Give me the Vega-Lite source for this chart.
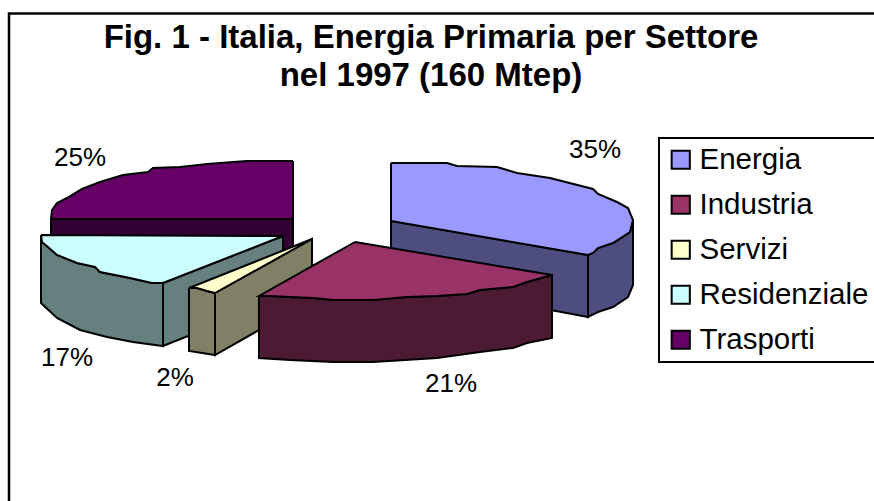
{"$schema":"https://vega.github.io/schema/vega-lite/v6.json","width":874,"height":501,"padding":0,"autosize":{"type":"none"},"background":"white",
"config":{"view":{"stroke":null},"legend":{"strokeWidth":2}},
"title":{"text":["Fig. 1 - Italia, Energia Primaria per Settore","nel 1997 (160 Mtep)"],"anchor":"middle","frame":"group","dx":-6,"offset":-93,"font":"Liberation Sans","fontSize":33,"fontWeight":"bold","color":"black","lineHeight":38},
"datasets":{
"frame":[{"i":0,"x":9,"y":501},{"i":1,"x":9,"y":13.5},{"i":2,"x":874,"y":13.5}],
"sides":[
{"face":"T1","shade":"#330033","i":0,"x":51,"y":219},{"face":"T1","shade":"#330033","i":1,"x":293,"y":219},{"face":"T1","shade":"#330033","i":2,"x":293,"y":270},{"face":"T1","shade":"#330033","i":3,"x":51,"y":270},{"face":"T1","shade":"#330033","i":4,"x":51,"y":219},
{"face":"R1","shade":"#668080","i":0,"x":163,"y":283},{"face":"R1","shade":"#668080","i":1,"x":283,"y":236},{"face":"R1","shade":"#668080","i":2,"x":283,"y":298},{"face":"R1","shade":"#668080","i":3,"x":163,"y":346},{"face":"R1","shade":"#668080","i":4,"x":163,"y":283},
{"face":"R2","shade":"#668080","i":0,"x":41,"y":235},{"face":"R2","shade":"#668080","i":1,"x":42,"y":242},{"face":"R2","shade":"#668080","i":2,"x":48,"y":247},{"face":"R2","shade":"#668080","i":3,"x":57,"y":255},{"face":"R2","shade":"#668080","i":4,"x":77,"y":263},{"face":"R2","shade":"#668080","i":5,"x":95,"y":267},{"face":"R2","shade":"#668080","i":6,"x":100,"y":272},{"face":"R2","shade":"#668080","i":7,"x":130,"y":278},{"face":"R2","shade":"#668080","i":8,"x":152,"y":283},{"face":"R2","shade":"#668080","i":9,"x":163,"y":283},{"face":"R2","shade":"#668080","i":10,"x":163,"y":346},{"face":"R2","shade":"#668080","i":11,"x":133,"y":342},{"face":"R2","shade":"#668080","i":12,"x":107,"y":337},{"face":"R2","shade":"#668080","i":13,"x":80,"y":330},{"face":"R2","shade":"#668080","i":14,"x":57,"y":318},{"face":"R2","shade":"#668080","i":15,"x":41,"y":303},{"face":"R2","shade":"#668080","i":16,"x":41,"y":235},
{"face":"E1","shade":"#4D4D80","i":0,"x":391,"y":221},{"face":"E1","shade":"#4D4D80","i":1,"x":588,"y":255},{"face":"E1","shade":"#4D4D80","i":2,"x":588,"y":317},{"face":"E1","shade":"#4D4D80","i":3,"x":391,"y":280},{"face":"E1","shade":"#4D4D80","i":4,"x":391,"y":221},
{"face":"E2","shade":"#4D4D80","i":0,"x":588,"y":255},{"face":"E2","shade":"#4D4D80","i":1,"x":593,"y":253},{"face":"E2","shade":"#4D4D80","i":2,"x":598,"y":248},{"face":"E2","shade":"#4D4D80","i":3,"x":613,"y":243},{"face":"E2","shade":"#4D4D80","i":4,"x":630,"y":232},{"face":"E2","shade":"#4D4D80","i":5,"x":633,"y":220},{"face":"E2","shade":"#4D4D80","i":6,"x":633,"y":285},{"face":"E2","shade":"#4D4D80","i":7,"x":628,"y":297},{"face":"E2","shade":"#4D4D80","i":8,"x":613,"y":307},{"face":"E2","shade":"#4D4D80","i":9,"x":598,"y":312},{"face":"E2","shade":"#4D4D80","i":10,"x":588,"y":317},{"face":"E2","shade":"#4D4D80","i":11,"x":588,"y":255},
{"face":"S1","shade":"#808066","i":0,"x":215,"y":293},{"face":"S1","shade":"#808066","i":1,"x":312,"y":239},{"face":"S1","shade":"#808066","i":2,"x":312,"y":300},{"face":"S1","shade":"#808066","i":3,"x":215,"y":355},{"face":"S1","shade":"#808066","i":4,"x":215,"y":293},
{"face":"S2","shade":"#808066","i":0,"x":189,"y":288},{"face":"S2","shade":"#808066","i":1,"x":197,"y":288},{"face":"S2","shade":"#808066","i":2,"x":207,"y":291},{"face":"S2","shade":"#808066","i":3,"x":215,"y":293},{"face":"S2","shade":"#808066","i":4,"x":215,"y":355},{"face":"S2","shade":"#808066","i":5,"x":189,"y":351},{"face":"S2","shade":"#808066","i":6,"x":189,"y":288},
{"face":"I1","shade":"#4D1A33","i":0,"x":259,"y":296},{"face":"I1","shade":"#4D1A33","i":1,"x":270,"y":296},{"face":"I1","shade":"#4D1A33","i":2,"x":290,"y":297},{"face":"I1","shade":"#4D1A33","i":3,"x":313,"y":298},{"face":"I1","shade":"#4D1A33","i":4,"x":333,"y":300},{"face":"I1","shade":"#4D1A33","i":5,"x":373,"y":300},{"face":"I1","shade":"#4D1A33","i":6,"x":407,"y":297},{"face":"I1","shade":"#4D1A33","i":7,"x":437,"y":296},{"face":"I1","shade":"#4D1A33","i":8,"x":467,"y":294},{"face":"I1","shade":"#4D1A33","i":9,"x":480,"y":290},{"face":"I1","shade":"#4D1A33","i":10,"x":513,"y":287},{"face":"I1","shade":"#4D1A33","i":11,"x":527,"y":282},{"face":"I1","shade":"#4D1A33","i":12,"x":552,"y":275},{"face":"I1","shade":"#4D1A33","i":13,"x":552,"y":338},{"face":"I1","shade":"#4D1A33","i":14,"x":527,"y":343},{"face":"I1","shade":"#4D1A33","i":15,"x":513,"y":348},{"face":"I1","shade":"#4D1A33","i":16,"x":480,"y":352},{"face":"I1","shade":"#4D1A33","i":17,"x":437,"y":358},{"face":"I1","shade":"#4D1A33","i":18,"x":373,"y":362},{"face":"I1","shade":"#4D1A33","i":19,"x":333,"y":362},{"face":"I1","shade":"#4D1A33","i":20,"x":290,"y":360},{"face":"I1","shade":"#4D1A33","i":21,"x":259,"y":358},{"face":"I1","shade":"#4D1A33","i":22,"x":259,"y":296}
],
"tops":[
{"series":"Trasporti","i":0,"x":293,"y":161},{"series":"Trasporti","i":1,"x":293,"y":219},{"series":"Trasporti","i":2,"x":51,"y":219},{"series":"Trasporti","i":3,"x":52,"y":210},{"series":"Trasporti","i":4,"x":57,"y":203},{"series":"Trasporti","i":5,"x":67,"y":198},{"series":"Trasporti","i":6,"x":82,"y":189},{"series":"Trasporti","i":7,"x":100,"y":182},{"series":"Trasporti","i":8,"x":123,"y":175},{"series":"Trasporti","i":9,"x":148,"y":172},{"series":"Trasporti","i":10,"x":153,"y":168},{"series":"Trasporti","i":11,"x":180,"y":167},{"series":"Trasporti","i":12,"x":207,"y":164},{"series":"Trasporti","i":13,"x":247,"y":161},{"series":"Trasporti","i":14,"x":293,"y":161},
{"series":"Residenziale","i":0,"x":41,"y":235},{"series":"Residenziale","i":1,"x":283,"y":236},{"series":"Residenziale","i":2,"x":163,"y":283},{"series":"Residenziale","i":3,"x":152,"y":283},{"series":"Residenziale","i":4,"x":130,"y":278},{"series":"Residenziale","i":5,"x":100,"y":272},{"series":"Residenziale","i":6,"x":95,"y":267},{"series":"Residenziale","i":7,"x":77,"y":263},{"series":"Residenziale","i":8,"x":57,"y":255},{"series":"Residenziale","i":9,"x":48,"y":247},{"series":"Residenziale","i":10,"x":42,"y":242},{"series":"Residenziale","i":11,"x":41,"y":235},
{"series":"Energia","i":0,"x":391,"y":163},{"series":"Energia","i":1,"x":447,"y":163},{"series":"Energia","i":2,"x":457,"y":166},{"series":"Energia","i":3,"x":497,"y":167},{"series":"Energia","i":4,"x":517,"y":173},{"series":"Energia","i":5,"x":550,"y":178},{"series":"Energia","i":6,"x":593,"y":189},{"series":"Energia","i":7,"x":598,"y":194},{"series":"Energia","i":8,"x":617,"y":202},{"series":"Energia","i":9,"x":628,"y":208},{"series":"Energia","i":10,"x":633,"y":220},{"series":"Energia","i":11,"x":630,"y":232},{"series":"Energia","i":12,"x":613,"y":243},{"series":"Energia","i":13,"x":598,"y":248},{"series":"Energia","i":14,"x":593,"y":253},{"series":"Energia","i":15,"x":588,"y":255},{"series":"Energia","i":16,"x":391,"y":221},{"series":"Energia","i":17,"x":391,"y":163},
{"series":"Servizi","i":0,"x":189,"y":288},{"series":"Servizi","i":1,"x":312,"y":239},{"series":"Servizi","i":2,"x":215,"y":293},{"series":"Servizi","i":3,"x":207,"y":291},{"series":"Servizi","i":4,"x":197,"y":288},{"series":"Servizi","i":5,"x":189,"y":288},
{"series":"Industria","i":0,"x":355,"y":242},{"series":"Industria","i":1,"x":552,"y":275},{"series":"Industria","i":2,"x":527,"y":282},{"series":"Industria","i":3,"x":513,"y":287},{"series":"Industria","i":4,"x":480,"y":290},{"series":"Industria","i":5,"x":467,"y":294},{"series":"Industria","i":6,"x":437,"y":296},{"series":"Industria","i":7,"x":407,"y":297},{"series":"Industria","i":8,"x":373,"y":300},{"series":"Industria","i":9,"x":333,"y":300},{"series":"Industria","i":10,"x":313,"y":298},{"series":"Industria","i":11,"x":290,"y":297},{"series":"Industria","i":12,"x":270,"y":296},{"series":"Industria","i":13,"x":259,"y":296},{"series":"Industria","i":14,"x":355,"y":242}
],
"labels":[{"series":"Energia","label":"35%","x":595,"y":158},{"series":"Industria","label":"21%","x":451,"y":392},{"series":"Servizi","label":"2%","x":175,"y":386},{"series":"Residenziale","label":"17%","x":67,"y":366},{"series":"Trasporti","label":"25%","x":80,"y":166}]
},
"encoding":{"x":{"field":"x","type":"quantitative","scale":{"domain":[0,874],"nice":false,"zero":false},"axis":null},"y":{"field":"y","type":"quantitative","scale":{"domain":[501,0],"nice":false,"zero":false},"axis":null}},
"layer":[
{"data":{"name":"frame"},"mark":{"type":"line","stroke":"black","strokeWidth":2.5,"strokeJoin":"miter","clip":false},"encoding":{"order":{"field":"i"}}},
{"data":{"name":"sides"},"mark":{"type":"line","stroke":"black","strokeWidth":2,"strokeJoin":"miter"},"encoding":{"detail":{"field":"face"},"order":{"field":"i"},"fill":{"field":"shade","type":"nominal","scale":null,"legend":null}}},
{"data":{"name":"tops"},"mark":{"type":"line","stroke":"black","strokeWidth":2,"strokeJoin":"miter"},"encoding":{"detail":{"field":"series"},"order":{"field":"i"},"fill":{"field":"series","type":"nominal","scale":{"domain":["Energia","Industria","Servizi","Residenziale","Trasporti"],"range":["#9999FF","#993366","#FFFFCC","#CCFFFF","#660066"]},"legend":{"title":null,"orient":"none","legendX":659,"legendY":138,"padding":7,"strokeColor":"black","fillColor":"white","symbolType":"square","symbolSize":330,"symbolStrokeColor":"black","symbolStrokeWidth":2,"symbolOpacity":1,"labelFont":"Liberation Sans","labelFontSize":29.5,"labelColor":"black","labelOffset":4,"rowPadding":14,"labelLimit":300}}}},
{"data":{"name":"labels"},"mark":{"type":"text","font":"Liberation Sans","fontSize":26,"color":"black","align":"center","baseline":"alphabetic"},"encoding":{"text":{"field":"label"}}}
],
"resolve":{"scale":{"fill":"independent"}}}
